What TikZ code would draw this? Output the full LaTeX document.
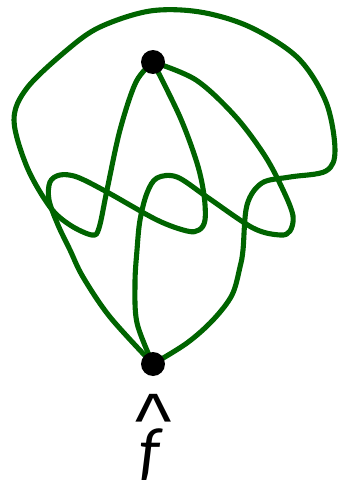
\documentclass[tikz,border=0pt]{standalone}
\usepackage{fontspec}
\setmainfont{Carlito}
\newfontfamily\hatfont{Liberation Sans}
\usepackage{xcolor}
\definecolor{knotgreen}{HTML}{006400}
\usetikzlibrary{backgrounds}
\tikzset{
  kvert/.style={circle, fill=black, inner sep=0pt, minimum size=0.48cm},
  kedge/.style={draw=knotgreen, line width=2.9pt, line cap=round, line join=round},
  klbl/.style={inner sep=0pt, anchor=north},
}
\begin{document}
\begin{tikzpicture}[x=0.02cm, y=-0.02cm]
  \useasboundingbox (0,0) rectangle (338,480);
  \node[kvert] (top) at (153,62) {};
  \node[kvert] (bot) at (153,364) {};
  \node[klbl, font=\hatfont\fontsize{44}{46}\selectfont] (hat) at (154,391) {\raisebox{-0.32em}[0.4em][0pt]{\textasciicircum}};
  \node[klbl, font=\fontsize{38}{40}\selectfont\itshape] (f) at (150,428) {f};
  \begin{scope}[on background layer]
    \draw[kedge] plot[smooth, tension=0.55] coordinates {(top) (136,82) (120,130) (107,190) (99,228) (92,235) (70,225) (50,207) (27,167) (14,120) (27,88) (67,50) (100,27) (150,11) (200,12) (250,27) (298,58) (326,102) (335,150) (326,171) (290,177) (262,183) (247,205) (243,250) (240,267) (232,295) (213,320) (187,343) (bot)};
    \draw[kedge] plot[smooth, tension=0.55] coordinates {(top) (180,117) (197,163) (204,195) (205,220) (199,230) (187,231) (157,220) (107,192) (77,177) (60,175) (50,182) (49,200) (58,225) (70,250) (83,277) (110,317) (bot)};
    \draw[kedge] plot[smooth, tension=0.55] coordinates {(top) (196,80) (235,116) (265,156) (284,192) (293,216) (290,231) (280,235) (253,228) (207,197) (177,177) (157,178) (147,193) (140,220) (137,250) (135,283) (137,323) (bot)};
  \end{scope}
\end{tikzpicture}
\end{document}
